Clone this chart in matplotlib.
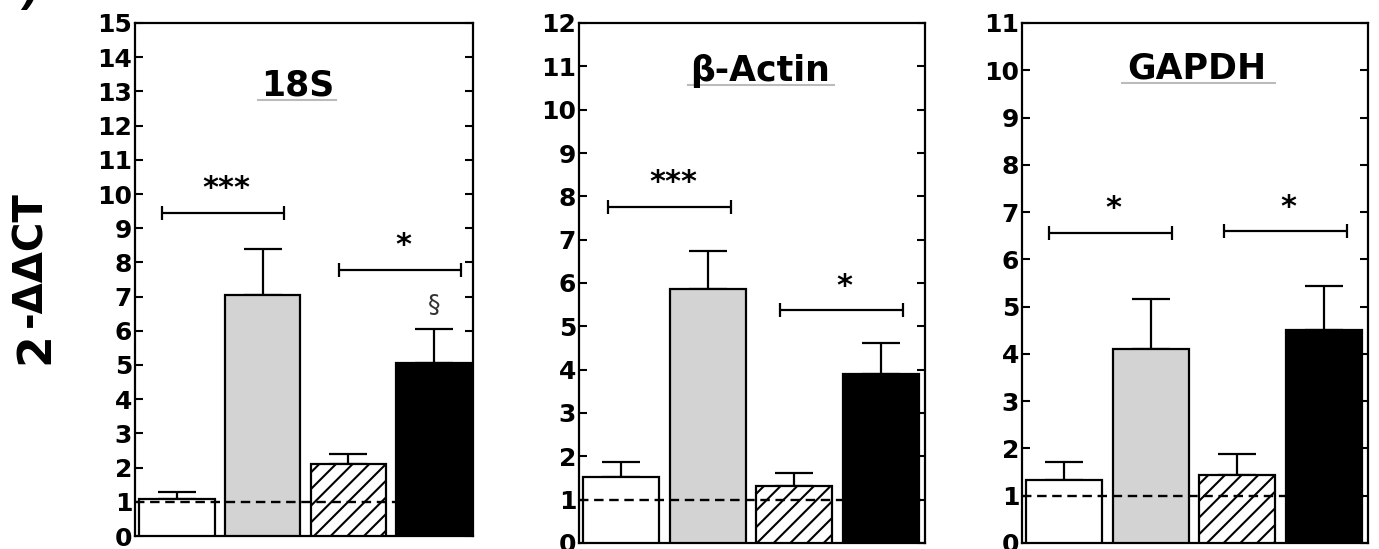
import numpy as np
import matplotlib
matplotlib.use("Agg")
import matplotlib.pyplot as plt

plt.rcParams['font.family'] = ['DejaVu Sans']
plt.rcParams['font.weight'] = 'bold'
plt.rcParams['hatch.linewidth'] = 1.5

# groups: control, treated, hatched, black
genes = ['18S', 'β-Actin', 'GAPDH']
ymax = [15, 12, 11]

mean_18s = [1.08, 7.05, 2.10, 5.06]
sem_18s = [0.22, 1.33, 0.30, 0.99]
mean_actin = [1.53, 5.86, 1.32, 3.91]
sem_actin = [0.33, 0.89, 0.30, 0.71]
mean_gapdh = [1.33, 4.10, 1.43, 4.51]
sem_gapdh = [0.39, 1.07, 0.46, 0.92]

# significance brackets: (x start, x end, y, label)
sig_18s = [(-0.18, 1.25, 9.45, '***'), (1.89, 3.32, 7.78, '*')]
sig_actin = [(-0.15, 1.27, 7.76, '***'), (1.83, 3.25, 5.37, '*')]
sig_gapdh = [(-0.18, 1.24, 6.56, '*'), (1.84, 3.27, 6.60, '*')]

means = [mean_18s, mean_actin, mean_gapdh]
sems = [sem_18s, sem_actin, sem_gapdh]
sigs = [sig_18s, sig_actin, sig_gapdh]

faces = ['white', '#d3d3d3', 'white', 'black']
hatches = [None, None, '//', None]

W, H = 1379, 549
fig = plt.figure(figsize=(W / 100, H / 100), dpi=100)

# axes boxes in pixels: left, right, top, bottom
boxes = [(135, 473, 23, 536), (579, 925, 23, 543), (1022, 1368, 23, 543)]
xlims = [(-0.49, 3.455), (-0.49, 3.51), (-0.49, 3.51)]
# title x, baseline y, underline start / end (axes fraction)
titles_pos = [(0.482, 0.858, 0.365, 0.595), (0.523, 0.889, 0.315, 0.737),
              (0.506, 0.893, 0.289, 0.731)]

x = np.arange(4)
for i in range(3):
    l, r, t, b = boxes[i]
    ax = fig.add_axes([l / W, 1 - b / H, (r - l) / W, (b - t) / H])
    ax.bar(x, means[i], width=0.88, color=faces, edgecolor='black',
           linewidth=1.6, zorder=3, hatch=hatches)
    lo = np.zeros(4)
    ax.errorbar(x, means[i], yerr=[lo, sems[i]], fmt='none', ecolor='black',
                elinewidth=1.6, capsize=14, capthick=1.6, zorder=2)
    ax.axhline(1, color='black', lw=1.7, ls=(0, (4, 2.4)), zorder=5)

    for x0, x1, y, lab in sigs[i]:
        ax.errorbar((x0 + x1) / 2, y, xerr=(x1 - x0) / 2, fmt='none',
                    ecolor='black', elinewidth=1.6, capsize=5, capthick=1.6)
        ax.annotate(lab, ((x0 + x1) / 2 + 0.04, y), xytext=(0, 24),
                    textcoords='offset pixels', ha='center', va='center',
                    fontsize=22)
    if i == 0:
        ax.annotate('§', (3, 6.75), ha='center', va='center', fontsize=18,
                    fontweight='normal', color='#333333')

    tx, ty, u0, u1 = titles_pos[i]
    ax.text(tx, ty, genes[i], transform=ax.transAxes, ha='center',
            va='baseline', fontsize=25)
    ax.plot([u0, u1], [ty - 0.009, ty - 0.009], transform=ax.transAxes,
            color='#bbbbbb', lw=1.5, clip_on=False)

    ax.set_xlim(*xlims[i])
    ax.set_ylim(0, ymax[i])
    ax.set_yticks(range(ymax[i] + 1))
    ax.set_xticks([])
    ax.tick_params(axis='y', direction='in', length=5.5, width=1.5,
                   left=True, right=True, labelsize=18, pad=2)
    for s in ax.spines.values():
        s.set_linewidth(1.6)

fig.text(36 / W, 1 - 348 / H, '2', rotation=90, ha='center', va='center',
         fontsize=33)
fig.text(30 / W, 1 - 259 / H, '-ΔΔCT', rotation=90, ha='center',
         va='center', fontsize=29)
fig.text(31 / W, 1 - 14 / H, ')', ha='center', va='bottom', fontsize=30,
         style='italic')

fig.savefig('out.png', dpi=100)
